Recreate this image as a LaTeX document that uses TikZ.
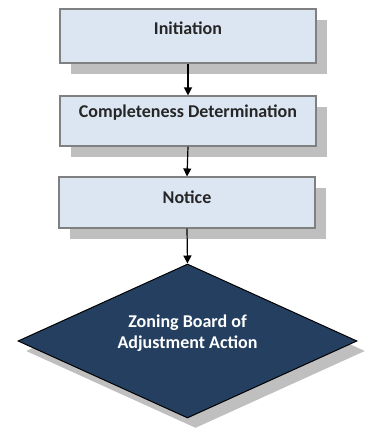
\documentclass[tikz,border=0pt]{standalone}
\usepackage{fontspec}
\setmainfont{Carlito}
\usetikzlibrary{shapes.geometric,shadows,arrows.meta}
\definecolor{boxfill}{HTML}{DCE6F2}
\definecolor{boxline}{HTML}{808080}
\definecolor{shadowgray}{HTML}{BFBFBF}
\definecolor{navy}{HTML}{243F60}
\tikzset{
  stepbox/.style={draw=boxline, line width=1.1pt, fill=boxfill, minimum width=256pt, inner sep=0pt,
    drop shadow={shadow xshift=11pt, shadow yshift=-11pt, fill=shadowgray, opacity=1}},
  boxtext/.style={font=\bfseries\fontsize{18}{20}\selectfont, text=black!85, inner sep=0pt},
  decision/.style={diamond, draw=black, line width=1pt, fill=navy, minimum width=339pt, minimum height=154pt, inner sep=0pt,
    drop shadow={shadow xshift=8pt, shadow yshift=-10pt, fill=shadowgray, opacity=1}},
  dectext/.style={font=\bfseries\fontsize{18}{21}\selectfont, text=white, align=center, inner sep=0pt},
  flow/.style={line width=1.2pt, -{Triangle[length=8pt,width=8pt]}}
}
\begin{document}
\begin{tikzpicture}[x=1pt,y=1pt]
\useasboundingbox (0,0) rectangle (365,439);
\node[stepbox, minimum height=54pt] (b1) at (188,403) {};
\node[boxtext] (t1) at (188,411) {Initiation};
\node[stepbox, minimum height=50pt] (b2) at (188,318) {};
\node[boxtext] (t2) at (188,326) {Completeness Determination};
\node[stepbox, minimum height=51pt] (b3) at (187,236.5) {};
\node[boxtext] (t3) at (187,242) {Notice};
\node[decision] (d) at (187.5,98) {};
\node[dectext] (td) at (187.5,106) {Zoning Board of\\Adjustment Action};
\draw[flow] (b1.south) -- (b2.north);
\draw[flow] (b2.south) -- (b3.north);
\draw[flow] (b3.south) -- (d.north);
\end{tikzpicture}
\end{document}
